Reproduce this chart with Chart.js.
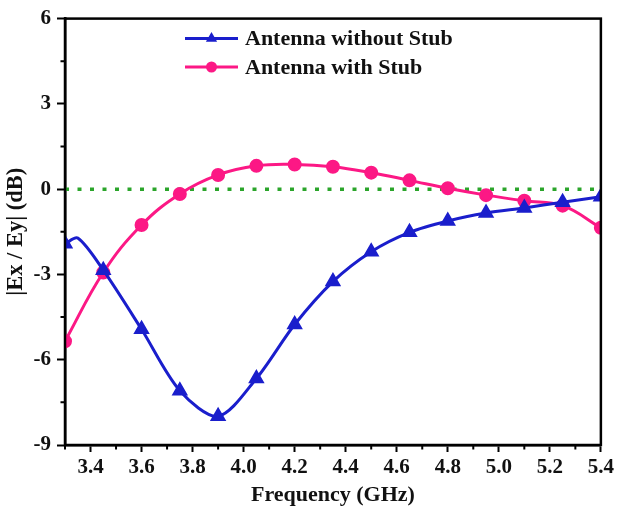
<!DOCTYPE html>
<html>
<head>
<meta charset="utf-8">
<script src="https://cdn.jsdelivr.net/npm/chart.js@4"></script>
<style>
    html, body { margin: 0; padding: 0; background: #fff; }
    #wrap { width: 617px; height: 515px; }
</style>
</head>
<body>
<div id="wrap"><canvas id="ratio-chart" width="617" height="515"></canvas></div>
<script>
// Frequency sweep (GHz) and axial ratio |Ex/Ey| in dB
const freqNoStub = [3.3, 3.35, 3.45, 3.6, 3.75, 3.9, 4.05, 4.2, 4.35, 4.5, 4.65, 4.8, 4.95, 5.1, 5.25, 5.4];
const ratioNoStub = [-1.92, -1.72, -2.85, -4.93, -7.09, -7.99, -6.66, -4.76, -3.25, -2.2, -1.52, -1.12, -0.84, -0.66, -0.46, -0.27];
const markerNoStub = [true, false, true, true, true, true, true, true, true, true, true, true, true, true, true, true];

const freqStub = [3.3, 3.45, 3.6, 3.75, 3.9, 4.05, 4.2, 4.35, 4.5, 4.65, 4.8, 4.95, 5.1, 5.25, 5.4];
const ratioStub = [-5.35, -2.93, -1.26, -0.17, 0.5, 0.82, 0.87, 0.79, 0.58, 0.31, 0.03, -0.21, -0.41, -0.58, -1.36];

const refFreq = [3.3, 5.4];
const refLevel = [0, 0];

const xTicks = [3.4, 3.6, 3.8, 4.0, 4.2, 4.4, 4.6, 4.8, 5.0, 5.2, 5.4];
const xMinor = [3.3, 3.5, 3.7, 3.9, 4.1, 4.3, 4.5, 4.7, 4.9, 5.1, 5.3];
const yTicks = [-9, -6, -3, 0, 3, 6];
const yMinor = [-7.5, -4.5, -1.5, 1.5, 4.5];

const BLUE = '#1a1ecc';
const PINK = '#fc1885';
const GREEN = '#2ba52b';
const FONT = "'Liberation Serif', 'Times New Roman', serif";

const toPoints = (xs, ys) => xs.map((x, i) => ({ x: x, y: ys[i] }));

// frame box, minor ticks and the in-plot legend
const framePlugin = {
    id: 'frame',
    afterDraw(chart) {
        const { ctx, chartArea: a, scales } = chart;
        ctx.save();
        ctx.strokeStyle = '#000';
        ctx.lineWidth = 2.5;
        ctx.strokeRect(a.left, a.top, a.right - a.left, a.bottom - a.top);

        ctx.lineWidth = 2;
        ctx.beginPath();
        xMinor.forEach(v => {
            const px = scales.x.getPixelForValue(v);
            ctx.moveTo(px, a.bottom);
            ctx.lineTo(px, a.bottom + 4.5);
        });
        yMinor.forEach(v => {
            const py = scales.y.getPixelForValue(v);
            ctx.moveTo(a.left, py);
            ctx.lineTo(a.left - 4.5, py);
        });
        ctx.stroke();

        // legend
        const rows = [0, 1].map(i => chart.data.datasets[i]);
        rows.forEach((ds, i) => {
            const y = 38.5 + i * 28.5;
            ctx.strokeStyle = ds.borderColor;
            ctx.lineWidth = 3;
            ctx.beginPath();
            ctx.moveTo(185, y);
            ctx.lineTo(238, y);
            ctx.stroke();
            ctx.fillStyle = ds.borderColor;
            ctx.beginPath();
            if (ds.pointStyle === 'triangle') {
                const r = 6.5;
                ctx.moveTo(211.5, y - r);
                ctx.lineTo(211.5 + r * 0.866, y + r * 0.5);
                ctx.lineTo(211.5 - r * 0.866, y + r * 0.5);
                ctx.closePath();
            } else {
                ctx.arc(211.5, y, 5.5, 0, Math.PI * 2);
            }
            ctx.fill();
            ctx.fillStyle = '#111';
            ctx.font = 'bold 22px ' + FONT;
            ctx.textBaseline = 'middle';
            ctx.fillText(ds.label, 245, y + 1);
        });
        ctx.restore();
    }
};

new Chart(document.getElementById('ratio-chart'), {
    type: 'line',
    data: {
        datasets: [{
            label: 'Antenna without Stub',
            data: toPoints(freqNoStub, ratioNoStub),
            borderColor: BLUE,
            backgroundColor: BLUE,
            borderWidth: 3,
            pointStyle: 'triangle',
            pointRadius: ctx => markerNoStub[ctx.dataIndex] ? 6.5 : 0,
            tension: 0.3
        }, {
            label: 'Antenna with Stub',
            data: toPoints(freqStub, ratioStub),
            borderColor: PINK,
            backgroundColor: PINK,
            borderWidth: 3,
            pointStyle: 'circle',
            pointRadius: 5.5,
            tension: 0.4
        }, {
            label: 'ref',
            data: toPoints(refFreq, refLevel),
            borderColor: GREEN,
            borderWidth: 3.5,
            borderDash: [4, 8.5],
            pointRadius: 0
        }]
    },
    options: {
        responsive: false,
        animation: false,
        layout: { padding: { top: 15, right: 15, left: 0, bottom: 0 } },
        plugins: {
            legend: { display: false },
            tooltip: { enabled: false }
        },
        scales: {
            x: {
                type: 'linear',
                min: 3.3,
                max: 5.4,
                afterBuildTicks: scale => { scale.ticks = xTicks.map(v => ({ value: v })); },
                afterFit: scale => { scale.height = 70; },
                ticks: {
                    color: '#111',
                    padding: 3,
                    maxRotation: 0,
                    font: { family: FONT, size: 21, weight: 'bold' },
                    callback: v => Number(v).toFixed(1)
                },
                grid: { drawOnChartArea: false, tickLength: 7, tickWidth: 2, tickColor: '#000' },
                border: { color: '#000', width: 2.5 },
                title: {
                    display: true,
                    text: 'Frequency (GHz)',
                    color: '#111',
                    padding: { top: 0, bottom: 6 },
                    font: { family: FONT, size: 22, weight: 'bold' }
                }
            },
            y: {
                min: -9,
                max: 6,
                afterBuildTicks: scale => { scale.ticks = yTicks.map(v => ({ value: v })); },
                afterFit: scale => { scale.width = 65; },
                ticks: {
                    color: '#111',
                    padding: 6,
                    font: { family: FONT, size: 21, weight: 'bold' },
                    callback: v => String(v)
                },
                grid: { drawOnChartArea: false, tickLength: 8, tickWidth: 2, tickColor: '#000' },
                border: { color: '#000', width: 2.5 },
                title: {
                    display: true,
                    text: '|Ex / Ey| (dB)',
                    color: '#111',
                    padding: { top: 3, bottom: 0 },
                    font: { family: FONT, size: 22.5, weight: 'bold' }
                }
            }
        }
    },
    plugins: [framePlugin]
});
</script>
</body>
</html>
